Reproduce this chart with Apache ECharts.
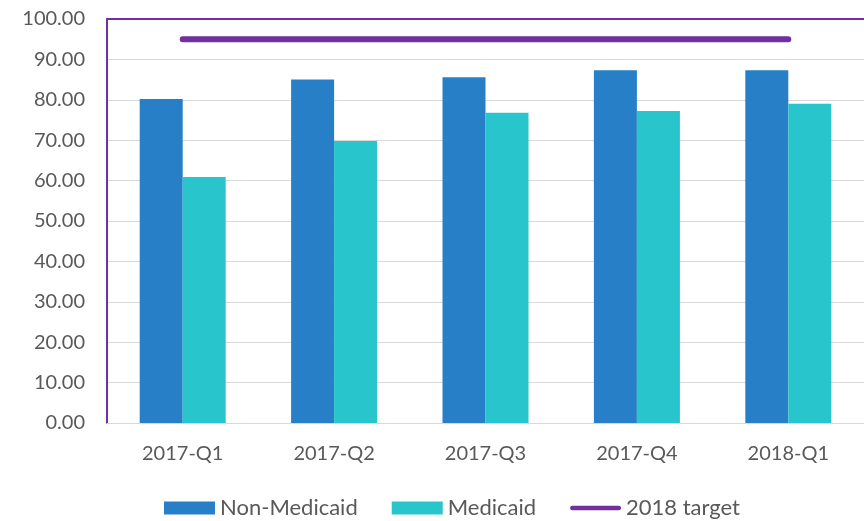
<!DOCTYPE html>
<html><head><meta charset="utf-8">
<script src="https://cdn.jsdelivr.net/npm/echarts@6/dist/echarts.min.js"></script>
<style>html,body{margin:0;padding:0;background:#fff}#c{width:864px;height:521px}</style>
</head><body><div id="c"></div>
<script>
const categories = ['2017-Q1','2017-Q2','2017-Q3','2017-Q4','2018-Q1'];
const nonMedicaid = [80.2, 85.0, 85.6, 87.3, 87.3];
const medicaid = [60.9, 69.8, 76.8, 77.2, 79.0];
const target2018 = [95, 95, 95, 95, 95];
const yTicks = {min: 0, max: 100, interval: 10};

const chart = echarts.init(document.getElementById('c'));
const FONT = 'Lato';
chart.setOption({
  animation: false,
  textStyle: {fontFamily: FONT},
  grid: {left: 107, top: 19, width: 760, bottom: 98, containLabel: false},
  legend: {
    left: 164, top: 497, padding: 0,
    itemWidth: 51, itemHeight: 13, itemGap: 34, symbolKeepAspect: true,
    textStyle: {fontFamily: FONT, fontSize: 22, color: '#595959', padding: [0, 0, 0, 0]},
    data: [
      {name: 'Non-Medicaid', icon: 'rect'},
      {name: 'Medicaid', icon: 'rect'},
      {name: '2018 target', icon: 'path://M2.5,0 L51.5,0 A2.5,2.5 0 0 1 51.5,5 L2.5,5 A2.5,2.5 0 0 1 2.5,0 Z'}
    ]
  },
  xAxis: [{
    type: 'category', data: categories,
    axisLine: {show: true, lineStyle: {color: '#d9d9d9', width: 1}},
    axisTick: {show: false},
    axisLabel: {fontFamily: FONT, fontSize: 20, color: '#595959', margin: 21}
  }, {
    type: 'category', data: categories, position: 'top',
    axisLine: {show: true, lineStyle: {color: '#7030A0', width: 2}},
    axisTick: {show: false}, axisLabel: {show: false}
  }],
  yAxis: {
    type: 'value', min: yTicks.min, max: yTicks.max, interval: yTicks.interval,
    axisLine: {show: true, lineStyle: {color: '#7030A0', width: 2}},
    axisTick: {show: false},
    splitLine: {lineStyle: {color: '#d9d9d9', width: 1}},
    axisLabel: {fontFamily: FONT, fontSize: 20, color: '#595959', margin: 22,
      formatter: v => v.toFixed(2)}
  },
  series: [
    {name: 'Non-Medicaid', type: 'bar', data: nonMedicaid, barWidth: 43, barGap: '0%',
      itemStyle: {color: '#2780C7'}},
    {name: 'Medicaid', type: 'bar', data: medicaid, barWidth: 43, barGap: '0%',
      itemStyle: {color: '#29C5CC'}},
    {name: '2018 target', type: 'line', data: target2018, symbol: 'none',
      itemStyle: {color: '#7030A0'},
      lineStyle: {color: '#7030A0', width: 6, cap: 'round'}}
  ]
});
</script></body></html>
